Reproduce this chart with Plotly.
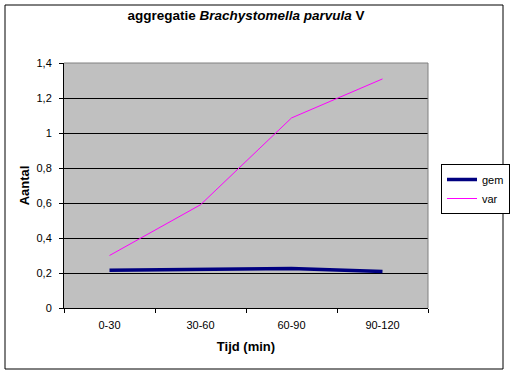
import plotly.graph_objects as go

categories = ["0-30", "30-60", "60-90", "90-120"]
gem = [0.215, 0.221, 0.226, 0.209]
var = [0.30, 0.59, 1.086, 1.309]
y_ticks = [0, 0.2, 0.4, 0.6, 0.8, 1.0, 1.2, 1.4]
y_tick_labels = ["0", "0,2", "0,4", "0,6", "0,8", "1", "1,2", "1,4"]

FONT = "Arial, Liberation Sans, sans-serif"

fig = go.Figure()
fig.add_trace(go.Scatter(x=categories, y=gem, mode="lines", name="gem",
                         line=dict(color="#000080", width=3.5)))
fig.add_trace(go.Scatter(x=categories, y=var, mode="lines", name="var",
                         line=dict(color="#FF00FF", width=1)))

L, R, T, B = 64, 428, 63, 308
W, H = 510, 375
pw, ph = R - L, B - T

def px(x):
    return (x - L) / pw

def py(y):
    return (B - y) / ph

fig.update_layout(
    width=W, height=H,
    margin=dict(l=L, r=W - R, t=T, b=H - B, pad=0, autoexpand=False),
    paper_bgcolor="white",
    plot_bgcolor="#C0C0C0",
    font=dict(family=FONT, size=11, color="black"),
    title=dict(text="<b>aggregatie <i>Brachystomella parvula</i> V</b>",
               x=0.5, xanchor="center", xref="paper", y=1 - 15 / H, yanchor="middle",
               font=dict(size=13.5, family=FONT, color="black")),
    showlegend=True,
    legend=dict(x=px(441), y=py(164), xanchor="left", yanchor="top",
                bgcolor="white", bordercolor="black", borderwidth=1,
                font=dict(size=11, family=FONT), itemwidth=30,
                tracegroupgap=0),
    xaxis=dict(
        type="category", range=[-0.5, 3.5],
        tickson="boundaries", ticks="outside", ticklen=4, tickcolor="black",
        ticklabelstandoff=7,
        showgrid=False, showline=True, linecolor="black", linewidth=1,
        tickfont=dict(size=11, family=FONT),
        title=dict(text="<b>Tijd (min)</b>", font=dict(size=13, family=FONT), standoff=11),
        zeroline=False,
    ),
    yaxis=dict(
        range=[0, 1.4], tickvals=y_ticks, ticktext=y_tick_labels,
        ticks="outside", ticklen=4, tickcolor="black",
        ticklabelstandoff=5,
        showgrid=True, gridcolor="black", gridwidth=1,
        showline=True, linecolor="black", linewidth=1,
        tickfont=dict(size=11, family=FONT),
        title=dict(text="<b>Aantal</b>", font=dict(size=13, family=FONT), standoff=3),
        zeroline=False,
    ),
    shapes=[
        dict(type="line", xref="paper", yref="paper", x0=0, x1=1, y0=1, y1=1,
             line=dict(color="#808080", width=1), layer="above"),
        dict(type="line", xref="paper", yref="paper", x0=1, x1=1, y0=0, y1=1,
             line=dict(color="#808080", width=1), layer="above"),
        dict(type="rect", xref="paper", yref="paper",
             x0=px(5), x1=px(503), y0=py(369), y1=py(5),
             line=dict(color="black", width=1), fillcolor="rgba(0,0,0,0)", layer="above"),
    ],
)

fig.write_html("out.html", config={"displayModeBar": False},
               post_script="document.body.style.margin='0';")
